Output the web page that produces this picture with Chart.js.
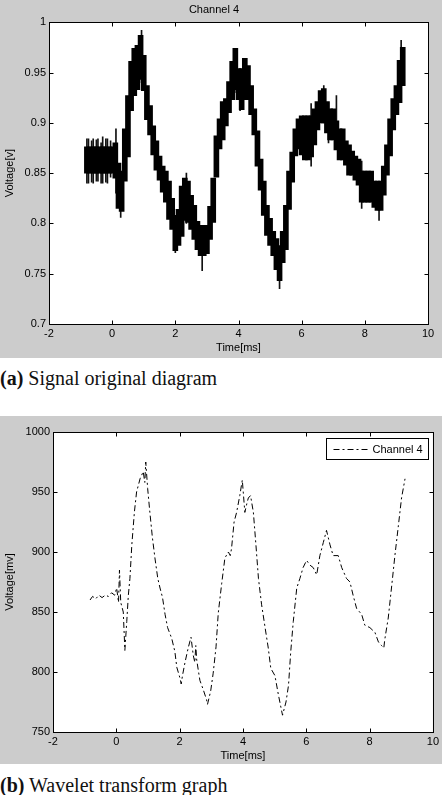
<!DOCTYPE html>
<html>
<head>
<meta charset="utf-8">
<script src="https://cdn.jsdelivr.net/npm/chart.js@4.4.1/dist/chart.umd.min.js"></script>
<style>
  body { margin: 0; width: 442px; height: 795px; background: #fff; position: relative; overflow: hidden; }
  .panel { position: absolute; left: 0; width: 442px; background: #cccccc; }
  #wrapA { top: 0; height: 358px; }
  #wrapB { top: 416px; height: 348px; }
  .cap { position: absolute; left: 0; font-family: "Liberation Serif", serif; font-size: 20px; line-height: 20px; color: #111; white-space: nowrap; }
  .cap b { font-weight: bold; }
</style>
</head>
<body>
<div class="panel" id="wrapA"><canvas id="signal_chart" width="442" height="358"></canvas></div>
<div class="cap" style="top:368px"><b>(a)</b> Signal original diagram</div>
<div class="panel" id="wrapB"><canvas id="wavelet_chart" width="442" height="348"></canvas></div>
<div class="cap" style="top:775px"><b>(b)</b> Wavelet transform graph</div>

<script>
// (a) raw signal, drawn as a band: per-sample min / max of the noisy trace [V]
const timesA = [-0.8, -0.7, -0.6, -0.5, -0.4, -0.3, -0.2, -0.1, 0.0, 0.1,
  0.2, 0.3, 0.4, 0.5, 0.6, 0.7, 0.8, 0.9, 1.0, 1.1,
  1.2, 1.3, 1.4, 1.5, 1.6, 1.7, 1.8, 1.9, 2.0, 2.1,
  2.2, 2.3, 2.4, 2.5, 2.6, 2.7, 2.8, 2.9, 3.0, 3.1,
  3.2, 3.3, 3.4, 3.5, 3.6, 3.7, 3.8, 3.9, 4.0, 4.1,
  4.2, 4.3, 4.4, 4.5, 4.6, 4.7, 4.8, 4.9, 5.0, 5.1,
  5.2, 5.3, 5.4, 5.5, 5.6, 5.7, 5.8, 5.9, 6.0, 6.1,
  6.2, 6.3, 6.4, 6.5, 6.6, 6.7, 6.8, 6.9, 7.0, 7.1,
  7.2, 7.3, 7.4, 7.5, 7.6, 7.7, 7.8, 7.9, 8.0, 8.1,
  8.2, 8.3, 8.4, 8.5, 8.6, 8.7, 8.8, 8.9, 9.0, 9.1, 9.2];
const bandLow = [0.850, 0.850, 0.850, 0.850, 0.850, 0.850, 0.850, 0.850, 0.850, 0.845,
  0.815, 0.812, 0.842, 0.866, 0.912, 0.927, 0.933, 0.943, 0.932, 0.903,
  0.888, 0.868, 0.853, 0.843, 0.831, 0.821, 0.804, 0.794, 0.773, 0.778,
  0.787, 0.803, 0.801, 0.794, 0.784, 0.774, 0.768, 0.768, 0.770, 0.784,
  0.801, 0.846, 0.874, 0.883, 0.897, 0.910, 0.923, 0.933, 0.923, 0.913,
  0.923, 0.923, 0.908, 0.888, 0.857, 0.833, 0.808, 0.788, 0.778, 0.768,
  0.754, 0.743, 0.761, 0.774, 0.814, 0.841, 0.867, 0.874, 0.868, 0.863,
  0.863, 0.866, 0.878, 0.893, 0.900, 0.900, 0.890, 0.883, 0.883, 0.873,
  0.863, 0.863, 0.858, 0.848, 0.848, 0.843, 0.838, 0.821, 0.821, 0.821,
  0.821, 0.816, 0.813, 0.813, 0.828, 0.848, 0.867, 0.893, 0.908, 0.920, 0.937];
const bandHigh = [0.876, 0.876, 0.876, 0.876, 0.876, 0.876, 0.876, 0.876, 0.876, 0.880,
  0.860, 0.852, 0.894, 0.927, 0.961, 0.974, 0.977, 0.987, 0.967, 0.937,
  0.917, 0.897, 0.882, 0.867, 0.857, 0.852, 0.842, 0.825, 0.808, 0.814,
  0.837, 0.845, 0.842, 0.828, 0.818, 0.802, 0.798, 0.798, 0.798, 0.817,
  0.845, 0.887, 0.904, 0.921, 0.924, 0.941, 0.961, 0.974, 0.954, 0.954,
  0.964, 0.957, 0.937, 0.914, 0.892, 0.864, 0.842, 0.818, 0.805, 0.792,
  0.785, 0.778, 0.792, 0.818, 0.852, 0.871, 0.894, 0.904, 0.907, 0.907,
  0.907, 0.907, 0.914, 0.921, 0.932, 0.934, 0.921, 0.914, 0.914, 0.902,
  0.894, 0.894, 0.882, 0.878, 0.872, 0.867, 0.864, 0.852, 0.852, 0.852,
  0.852, 0.842, 0.842, 0.842, 0.857, 0.878, 0.904, 0.924, 0.937, 0.962, 0.975];

// isolated spikes sticking out of the band
const spikeT = [-0.8, -0.75, -0.65, -0.6, -0.5, -0.45, -0.35, -0.3, -0.2, -0.15, -0.05,
  0.12, 0.27, 0.93, 2.0, 2.35, 2.85, 3.93, 4.05, 5.3, 6.3, 6.7, 6.85, 7.1, 7.9, 8.45, 9.15];
const spikeLow = [0.840, 0.840, 0.841, 0.840, 0.842, 0.842, 0.840, 0.840, 0.841, 0.840, 0.846,
  0.830, 0.806, 0.940, 0.771, 0.800, 0.753, 0.930, 0.912, 0.735, 0.857, 0.900, 0.880, 0.877, 0.815, 0.803, 0.940];
const spikeHigh = [0.884, 0.884, 0.882, 0.884, 0.883, 0.884, 0.880, 0.886, 0.884, 0.884, 0.882,
  0.894, 0.850, 0.992, 0.800, 0.850, 0.780, 0.974, 0.950, 0.760, 0.919, 0.937, 0.920, 0.927, 0.862, 0.830, 0.982];

// (b) wavelet-denoised trace [mV]
const timesB = [-0.83, -0.75, -0.65, -0.55, -0.45, -0.35, -0.25, -0.15, -0.05, 0.01,
  0.07, 0.10, 0.14, 0.22, 0.27, 0.33, 0.38, 0.43, 0.49, 0.57,
  0.64, 0.75, 0.85, 0.90, 0.93, 0.99, 1.06, 1.14, 1.22, 1.31,
  1.38, 1.46, 1.54, 1.62, 1.75, 1.85, 1.91, 2.01, 2.05, 2.09,
  2.17, 2.27, 2.36, 2.43, 2.48, 2.51, 2.54, 2.64, 2.75, 2.85,
  2.88, 2.98, 3.06, 3.15, 3.22, 3.33, 3.43, 3.54, 3.60, 3.64,
  3.72, 3.80, 3.90, 3.98, 4.06, 4.12, 4.17, 4.24, 4.33, 4.41,
  4.49, 4.59, 4.70, 4.80, 4.88, 5.01, 5.12, 5.25, 5.36, 5.44,
  5.51, 5.59, 5.70, 5.80, 5.90, 6.01, 6.12, 6.22, 6.33, 6.43,
  6.54, 6.64, 6.75, 6.85, 7.01, 7.12, 7.27, 7.38, 7.48, 7.59,
  7.75, 7.85, 8.01, 8.17, 8.28, 8.38, 8.45, 8.48, 8.59, 8.70,
  8.80, 8.91, 9.01, 9.12];
const waveletMv = [860, 863, 861, 864, 862, 864, 863, 866, 864, 870,
  858, 885, 858, 850, 818, 842, 864, 878, 906, 933,
  950, 961, 967, 958, 975, 953, 933, 912, 895, 878,
  870, 862, 848, 837, 828, 817, 804, 795, 790, 797,
  808, 820, 829, 814, 808, 822, 810, 793, 785, 777,
  773, 784, 799, 821, 849, 874, 895, 900, 897, 903,
  925, 933, 947, 960, 933, 940, 945, 947, 933, 906,
  878, 856, 837, 820, 803, 797, 781, 764, 775, 789,
  817, 842, 870, 878, 887, 893, 889, 887, 881, 897,
  908, 918, 906, 897, 897, 887, 878, 875, 864, 853,
  848, 839, 837, 833, 825, 822, 820, 827, 845, 872,
  897, 922, 945, 961];

Chart.defaults.font.family = '"Liberation Sans", Arial, sans-serif';
Chart.defaults.font.size = 11;
Chart.defaults.color = '#000';

// MATLAB-like axes: white plot area, black box, inward ticks on all four sides
const matlabBox = {
  id: 'matlabBox',
  beforeDraw(chart) {
    const { ctx, chartArea: a } = chart;
    ctx.save();
    ctx.fillStyle = '#fff';
    ctx.fillRect(a.left, a.top, a.width, a.height);
    ctx.restore();
  },
  afterDatasetsDraw(chart) {
    const { ctx, chartArea: a, scales: { x, y } } = chart;
    const l = Math.round(a.left) + 0.5, r = Math.round(a.right) + 0.5;
    const t = Math.round(a.top) + 0.5, b = Math.round(a.bottom) + 0.5;
    ctx.save();
    ctx.strokeStyle = '#000';
    ctx.lineWidth = 1;
    ctx.setLineDash([]);
    ctx.strokeRect(l, t, r - l, b - t);
    ctx.beginPath();
    x.ticks.forEach(tk => {
      const px = Math.round(x.getPixelForValue(tk.value)) + 0.5;
      ctx.moveTo(px, b); ctx.lineTo(px, b - 4);
      ctx.moveTo(px, t); ctx.lineTo(px, t + 4);
    });
    y.ticks.forEach(tk => {
      const py = Math.round(y.getPixelForValue(tk.value)) + 0.5;
      ctx.moveTo(l, py); ctx.lineTo(l + 4, py);
      ctx.moveTo(r, py); ctx.lineTo(r - 4, py);
    });
    ctx.stroke();

    const lg = chart.options.plugins.boxLegend;
    if (lg && lg.text) {
      const bx = Math.round(a.right) - 107 + 0.5, by = Math.round(a.top) + 6 + 0.5;
      ctx.fillStyle = '#fff';
      ctx.fillRect(bx, by, 102, 21);
      ctx.strokeRect(bx, by, 102, 21);
      ctx.setLineDash([6, 3, 2, 3]);
      ctx.beginPath();
      ctx.moveTo(bx + 7, by + 11);
      ctx.lineTo(bx + 41, by + 11);
      ctx.stroke();
      ctx.setLineDash([]);
      ctx.fillStyle = '#000';
      ctx.font = '11px "Liberation Sans", Arial, sans-serif';
      ctx.textBaseline = 'middle';
      ctx.fillText(lg.text, bx + 46, by + 11);
    }
    ctx.restore();
  }
};

const noGrid = { display: false, drawTicks: false };

const ctxA = document.getElementById('signal_chart').getContext('2d');
new Chart(ctxA, {
  type: 'bar',
  data: {
    datasets: [{
      label: 'Channel 4',
      data: timesA.map((t, i) => ({ x: t, y: [bandLow[i], bandHigh[i]] })),
      backgroundColor: '#000',
      barThickness: 5,
      grouped: false
    }, {
      label: 'spikes',
      data: spikeT.map((t, i) => ({ x: t, y: [spikeLow[i], spikeHigh[i]] })),
      backgroundColor: '#111',
      barThickness: 1,
      grouped: false
    }]
  },
  options: {
    responsive: false,
    animation: false,
    layout: { padding: { right: 14 } },
    plugins: {
      legend: { display: false },
      tooltip: { enabled: false },
      title: { display: true, text: 'Channel 4', color: '#000', font: { size: 11, weight: 'normal' }, padding: { top: 3, bottom: 6 } }
    },
    scales: {
      x: {
        type: 'linear', min: -2, max: 10, offset: false,
        ticks: { stepSize: 2, padding: 3, maxRotation: 0 },
        grid: noGrid, border: { display: false },
        title: { display: true, text: 'Time[ms]', padding: { top: 0, bottom: 3.4 } },
        afterFit(s) { s.height = 34; }
      },
      y: {
        min: 0.7, max: 1,
        ticks: { stepSize: 0.05, padding: 3, callback: v => String(+v.toFixed(2)) },
        grid: noGrid, border: { display: false },
        title: { display: true, text: 'Voltage[v]', padding: { top: 3.4, bottom: 0 } },
        afterFit(s) { s.width = 49; }
      }
    }
  },
  plugins: [matlabBox]
});

const ctxB = document.getElementById('wavelet_chart').getContext('2d');
new Chart(ctxB, {
  type: 'line',
  data: {
    datasets: [{
      label: 'Channel 4',
      data: timesB.map((t, i) => ({ x: t, y: waveletMv[i] })),
      borderColor: '#000',
      borderWidth: 1,
      borderDash: [6, 3, 2, 3],
      pointRadius: 0,
      tension: 0,
      fill: false
    }]
  },
  options: {
    responsive: false,
    animation: false,
    layout: { padding: { top: 16, right: 9 } },
    plugins: {
      legend: { display: false },
      tooltip: { enabled: false },
      boxLegend: { text: 'Channel 4' }
    },
    scales: {
      x: {
        type: 'linear', min: -2, max: 10,
        ticks: { stepSize: 2, padding: 3, maxRotation: 0 },
        grid: noGrid, border: { display: false },
        title: { display: true, text: 'Time[ms]', padding: { top: 0, bottom: 1.4 } },
        afterFit(s) { s.height = 32; }
      },
      y: {
        min: 750, max: 1000,
        ticks: { stepSize: 50, padding: 3, callback: v => String(v) },
        grid: noGrid, border: { display: false },
        title: { display: true, text: 'Voltage[mv]', padding: { top: 3.4, bottom: 0 } },
        afterFit(s) { s.width = 53; }
      }
    }
  },
  plugins: [matlabBox]
});
</script>
</body>
</html>
